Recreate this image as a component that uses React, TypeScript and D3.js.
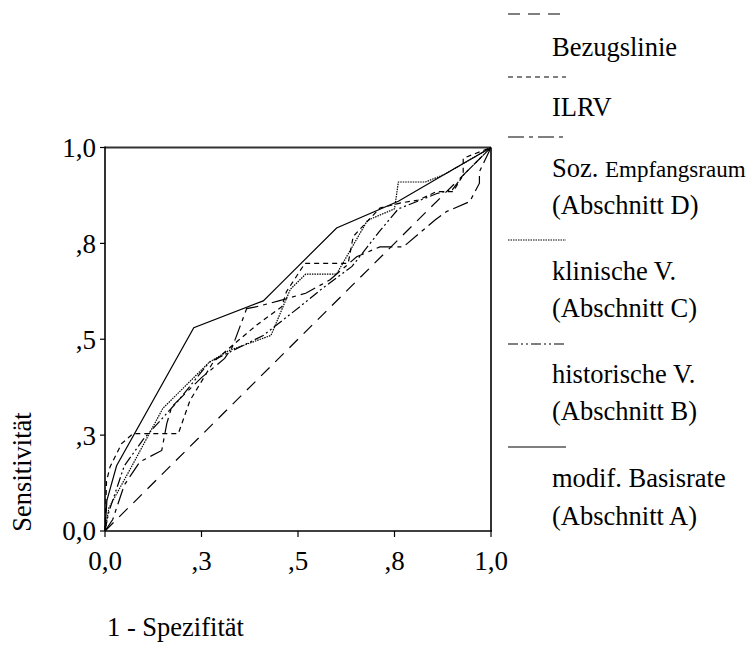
import React from "react";
import * as d3 from "d3";

const tickValues = [0, 0.25, 0.5, 0.75, 1];
const tickLabels = ["0,0", ",3", ",5", ",8", "1,0"];

const bezugX = [0, 1];
const bezugY = [0, 1];

const basisX = [0, 0.005, 0.03, 0.23, 0.41, 0.45, 0.6, 0.76, 0.88, 1];
const basisY = [0, 0.08, 0.17, 0.53, 0.6, 0.64, 0.79, 0.86, 0.93, 1];

const klinX = [0, 0.01, 0.07, 0.15, 0.27, 0.32, 0.43, 0.48, 0.52, 0.6, 0.68, 0.75, 0.76, 0.83, 0.88, 1];
const klinY = [0, 0.06, 0.17, 0.32, 0.44, 0.47, 0.51, 0.63, 0.67, 0.67, 0.81, 0.84, 0.91, 0.91, 0.93, 1];

const histX = [0, 0.01, 0.05, 0.1, 0.19, 0.27, 0.41, 0.505, 0.56, 0.64, 0.71, 0.76, 0.81, 0.86, 0.9, 0.93, 0.96, 1];
const histY = [0, 0.05, 0.17, 0.24, 0.34, 0.44, 0.51, 0.585, 0.63, 0.69, 0.78, 0.84, 0.86, 0.88, 0.89, 0.93, 0.96, 1];

const ilrvX = [0, 0.004, 0.013, 0.043, 0.073, 0.19, 0.22, 0.28, 0.337, 0.393, 0.458, 0.47, 0.518, 0.63, 0.643, 0.712, 0.764, 0.812, 0.859, 0.902, 0.928, 0.928, 1];
const ilrvY = [0, 0.13, 0.167, 0.228, 0.254, 0.254, 0.34, 0.44, 0.49, 0.537, 0.585, 0.624, 0.698, 0.698, 0.768, 0.842, 0.855, 0.863, 0.885, 0.885, 0.929, 0.972, 1];

const sozX = [0, 0.02, 0.05, 0.09, 0.147, 0.16, 0.173, 0.25, 0.31, 0.33, 0.367, 0.393, 0.45, 0.52, 0.583, 0.652, 0.712, 0.773, 0.855, 0.885, 0.945, 0.97, 0.97, 1];
const sozY = [0, 0.03, 0.12, 0.18, 0.21, 0.28, 0.324, 0.4, 0.45, 0.48, 0.58, 0.585, 0.6, 0.62, 0.655, 0.715, 0.741, 0.741, 0.811, 0.833, 0.859, 0.907, 0.937, 1];

const seriesNames = ["Bezugslinie", "ILRV", "Soz. Empfangsraum", "klinische V.", "historische V.", "modif. Basisrate"];
const seriesSub = ["", "", "(Abschnitt D)", "(Abschnitt C)", "(Abschnitt B)", "(Abschnitt A)"];

const FONT = "'Liberation Serif', 'Times New Roman', serif";

export default function App() {
  const W = 754, H = 646;
  const x = d3.scaleLinear().domain([0, 1]).range([105, 491]);
  const y = d3.scaleLinear().domain([0, 1]).range([531, 147.5]);
  const line = d3.line<[number, number]>().x(d => x(d[0])).y(d => y(d[1]));
  const zip = (a: number[], b: number[]) => a.map((v, i) => [v, b[i]] as [number, number]);

  const series = [
    { xs: bezugX, ys: bezugY, dash: "12,8", w: 1.2 },
    { xs: ilrvX, ys: ilrvY, dash: "5,4", w: 1.2 },
    { xs: sozX, ys: sozY, dash: "16,5,4,5", w: 1.2 },
    { xs: klinX, ys: klinY, dash: "1.5,1", w: 1.2 },
    { xs: histX, ys: histY, dash: "10,3,2,3,2,3", w: 1.2 },
    { xs: basisX, ys: basisY, dash: "", w: 1.2 },
  ];

  const legendLineY = [14, 77, 137, 240, 344, 447];
  const legendTop = [47, 107, 168, 271, 374, 478];
  const legendSubY = [0, 0, 205, 308, 411, 516];

  return (
    <svg width={W} height={H} style={{ position: "absolute", left: 0, top: 0, background: "#fff" }} fontFamily={FONT}>
      <rect x={0} y={0} width={W} height={H} fill="#fff" />
      <line x1={x(0)} x2={x(1)} y1={y(1)} y2={y(1)} stroke="#333" strokeWidth={2} />
      <line x1={x(1)} x2={x(1)} y1={y(1)} y2={y(0)} stroke="#333" strokeWidth={2} />
      {series.map((s, i) => (
        <path key={i} d={line(zip(s.xs, s.ys)) || ""} fill="none" stroke="#000" strokeWidth={s.w}
          strokeDasharray={s.dash || undefined} />
      ))}
      <line x1={x(0)} x2={x(0)} y1={y(1) - 1} y2={y(0)} stroke="#000" strokeWidth={1.6} />
      <line x1={x(0)} x2={x(1) + 1} y1={y(0)} y2={y(0)} stroke="#000" strokeWidth={1.6} />
      {tickValues.map((t, i) => (
        <g key={"y" + i}>
          <line x1={x(0) - 5} x2={x(0)} y1={y(t)} y2={y(t)} stroke="#000" strokeWidth={1.2} />
          <text x={96} y={y(t)} dy="0.35em" textAnchor="end" fontSize={27}>{tickLabels[i]}</text>
        </g>
      ))}
      {tickValues.map((t, i) => (
        <g key={"x" + i}>
          <line x1={x(t)} x2={x(t)} y1={y(0)} y2={y(0) + 6} stroke="#000" strokeWidth={1.2} />
          <text x={x(t)} y={570} textAnchor="middle" fontSize={27}>{tickLabels[i]}</text>
        </g>
      ))}
      <text x={107} y={636} fontSize={26.5}>1 - Spezifität</text>
      <text transform={`translate(31,472) rotate(-90)`} textAnchor="middle" fontSize={26.5}>Sensitivität</text>
      {series.map((s, i) => (
        <g key={"l" + i}>
          <line x1={508} x2={566} y1={legendLineY[i]} y2={legendLineY[i]} stroke="#000" strokeWidth={1.2}
            strokeDasharray={s.dash || undefined} />
          {i === 2 ? (
            <text x={552} y={legendTop[i]} dy="0.35em" fontSize={26.5}>
              Soz. <tspan fontSize={23}>Empfangsraum</tspan>
            </text>
          ) : (
            <text x={552} y={legendTop[i]} dy="0.35em" fontSize={26.5}>{seriesNames[i]}</text>
          )}
          {seriesSub[i] && (
            <text x={552} y={legendSubY[i]} dy="0.35em" fontSize={26.5}>{seriesSub[i]}</text>
          )}
        </g>
      ))}
    </svg>
  );
}
